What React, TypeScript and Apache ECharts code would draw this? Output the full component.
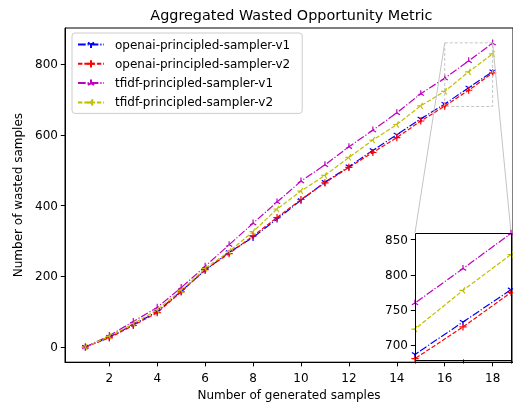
import React, { useEffect, useRef } from 'react';
import * as echarts from 'echarts';

const xValues = [1, 2, 3, 4, 5, 6, 7, 8, 9, 10, 11, 12, 13, 14, 15, 16, 17, 18];
const openaiV1 = [0, 28, 63, 100, 158, 217, 268, 310, 362, 415, 466, 510, 556, 600, 645, 687, 733, 779];
const openaiV2 = [0, 26, 61, 97, 156, 219, 264, 314, 366, 417, 464, 508, 550, 592, 639, 681, 726, 775];
const tfidfV1 = [0, 32, 72, 112, 168, 228, 289, 350, 410, 469, 515, 566, 613, 662, 716, 760, 809, 859];
const tfidfV2 = [0, 30, 66, 105, 160, 222, 270, 326, 390, 441, 485, 536, 585, 629, 682, 723, 778, 829];
const seriesNames = [
  'openai-principled-sampler-v1',
  'openai-principled-sampler-v2',
  'tfidf-principled-sampler-v1',
  'tfidf-principled-sampler-v2',
];
const xTicks = [2, 4, 6, 8, 10, 12, 14, 16, 18];
const yTicks = [0, 200, 400, 600, 800];
const insetXTicks = [16, 17, 18];
const insetYTicks = [700, 750, 800, 850];
const insetXRange = [16, 18];
const insetYRange = [680, 860];

const FONT = 'DejaVu Sans';
const SYM_TRI_DOWN = 'path://M-1 -1M1 1M0 0L0 1M0 0L-0.866 -0.5M0 0L0.866 -0.5';
const SYM_PLUS = 'path://M-1 0L1 0M0 -1L0 1';
const SYM_TRI_UP = 'path://M-1 -1M1 1M0 0L0 -1M0 0L-0.866 0.5M0 0L0.866 0.5';
const SYM_TRI_LEFT = 'path://M-1 -1M1 1M0 0L-1 0M0 0L0.5 -0.866M0 0L0.5 0.866';
const DASHDOT = [7.7, 1.9, 1.2, 1.9];
const DASHED = [4.4, 1.9];

const styles = [
  { color: '#0000ff', symbol: SYM_TRI_DOWN, dash: DASHDOT },
  { color: '#ff0000', symbol: SYM_PLUS, dash: DASHED },
  { color: '#bf00bf', symbol: SYM_TRI_UP, dash: DASHDOT },
  { color: '#bfbf00', symbol: SYM_TRI_LEFT, dash: DASHED },
];

export default function App() {
  const ref = useRef<HTMLDivElement>(null);

  useEffect(() => {
    if (!ref.current) return;
    const chart = echarts.init(ref.current, null, { renderer: 'svg' });
    const all = [openaiV1, openaiV2, tfidfV1, tfidfV2];
    const flat = all.flat();
    const yMinD = Math.min(...flat);
    const yMaxD = Math.max(...flat);
    const ySpan = yMaxD - yMinD;
    const xMinD = Math.min(...xValues);
    const xMaxD = Math.max(...xValues);
    const xSpan = xMaxD - xMinD;

    const makeSeries = (gridIdx: number) =>
      all.map((vals, i) => ({
        name: seriesNames[i],
        type: 'line',
        xAxisIndex: gridIdx,
        yAxisIndex: gridIdx,
        data: xValues.map((x, j) => [x, vals[j]]),
        symbol: styles[i].symbol,
        symbolSize: 7.2,
        showSymbol: true,
        clip: true,
        z: gridIdx === 1 ? 8 : 2,
        lineStyle: { color: styles[i].color, width: 1.2, type: styles[i].dash },
        itemStyle: { color: styles[i].color, borderColor: styles[i].color, borderWidth: 1.2 },
        emphasis: { disabled: true },
      }));

    const axisCommon = {
      type: 'value',
      splitLine: { show: false },
      axisLine: { show: true, onZero: false, lineStyle: { color: '#000', width: 1 } },
    };

    const option: any = {
      animation: false,
      textStyle: { fontFamily: FONT },
      title: {
        text: 'Aggregated Wasted Opportunity Metric',
        left: 291.4,
        top: 7.5,
        textAlign: 'center',
        padding: 0,
        textStyle: { fontSize: 14.4, fontWeight: 'normal', color: '#000', fontFamily: FONT },
      },
      legend: {
        data: seriesNames,
        orient: 'vertical',
        left: 72,
        top: 33,
        itemWidth: 26,
        itemHeight: 9,
        itemGap: 7.3,
        padding: [5.5, 12, 5, 5],
        backgroundColor: 'rgba(255,255,255,0.8)',
        borderColor: '#cccccc',
        borderWidth: 1,
        borderRadius: 3,
        selectedMode: false,
        textStyle: { fontSize: 12, color: '#000', fontFamily: FONT, padding: [0, 0, 0, 6], lineHeight: 12 },
      },
      grid: [
        { left: 65, top: 28, width: 452.7, height: 337.3, show: true, borderColor: '#000', borderWidth: 1, backgroundColor: 'transparent' },
        { left: 415, top: 232.7, width: 96, height: 126.6, show: true, borderWidth: 0, backgroundColor: '#ffffff', z: 5 },
      ],
      xAxis: [
        {
          ...axisCommon,
          gridIndex: 0,
          min: xMinD - 0.05 * xSpan,
          max: xMaxD + 0.05 * xSpan,
          axisTick: { show: true, length: 4.2, customValues: xTicks, lineStyle: { color: '#000', width: 1 } },
          axisLabel: { customValues: xTicks, margin: 9.5, fontSize: 12, color: '#000', fontFamily: FONT },
          name: 'Number of generated samples',
          nameLocation: 'middle',
          nameGap: 26.8,
          nameTextStyle: { fontSize: 12, color: '#000', fontFamily: FONT },
        },
        {
          type: 'value',
          splitLine: { show: false },
          axisLine: { show: false, onZero: false },
          gridIndex: 1,
          min: insetXRange[0],
          max: insetXRange[1],
          axisTick: { show: true, length: 4.2, customValues: insetXTicks, lineStyle: { color: '#000', width: 1 } },
          axisLabel: { show: false },
        },
      ],
      yAxis: [
        {
          ...axisCommon,
          gridIndex: 0,
          min: yMinD - 0.05 * ySpan,
          max: yMaxD + 0.05 * ySpan,
          axisTick: { show: true, length: 4.2, customValues: yTicks, lineStyle: { color: '#000', width: 1 } },
          axisLabel: { customValues: yTicks, margin: 7, fontSize: 12, color: '#000', fontFamily: FONT },
          name: 'Number of wasted samples',
          nameLocation: 'middle',
          nameGap: 38,
          nameTextStyle: { fontSize: 12, color: '#000', fontFamily: FONT },
        },
        {
          type: 'value',
          splitLine: { show: false },
          axisLine: { show: false, onZero: false },
          gridIndex: 1,
          min: insetYRange[0],
          max: insetYRange[1],
          axisTick: { show: true, length: 4.2, customValues: insetYTicks, lineStyle: { color: '#000', width: 1 } },
          axisLabel: { customValues: insetYTicks, margin: 7, fontSize: 12, color: '#000', fontFamily: FONT },
        },
      ],
      series: [...makeSeries(0), ...makeSeries(1)],
    };
    chart.setOption(option);

    const r0 = chart.convertToPixel({ gridIndex: 0 } as any, [insetXRange[0], insetYRange[1]]) as number[];
    const r1 = chart.convertToPixel({ gridIndex: 0 } as any, [insetXRange[1], insetYRange[0]]) as number[];
    const iTL = chart.convertToPixel({ gridIndex: 1 } as any, [insetXRange[0], insetYRange[1]]) as number[];
    const iBR = chart.convertToPixel({ gridIndex: 1 } as any, [insetXRange[1], insetYRange[0]]) as number[];
    const gray = '#c4c4c4';
    chart.setOption({
      graphic: [
        {
          type: 'rect',
          shape: { x: r0[0], y: r0[1], width: r1[0] - r0[0], height: r1[1] - r0[1] },
          style: { fill: 'none', stroke: gray, lineWidth: 1, lineDash: [3, 2] },
          z: 3,
          silent: true,
        },
        {
          type: 'line',
          shape: { x1: r0[0], y1: r0[1], x2: iTL[0], y2: iTL[1] },
          style: { stroke: gray, lineWidth: 1 },
          z: 3,
          silent: true,
        },
        {
          type: 'line',
          shape: { x1: r1[0], y1: r0[1], x2: iBR[0], y2: iTL[1] },
          style: { stroke: gray, lineWidth: 1 },
          z: 3,
          silent: true,
        },
        {
          type: 'rect',
          shape: { x: Math.round(iTL[0]) + 0.5, y: Math.round(iTL[1]) + 0.5, width: Math.round(iBR[0] - iTL[0]), height: Math.round(iBR[1] - iTL[1]) },
          style: { fill: 'none', stroke: '#000', lineWidth: 1 },
          z: 20,
          silent: true,
        },
      ],
    });

    return () => chart.dispose();
  }, []);

  return <div ref={ref} style={{ position: 'fixed', left: 0, top: 0, width: 513, height: 406 }} />;
}
